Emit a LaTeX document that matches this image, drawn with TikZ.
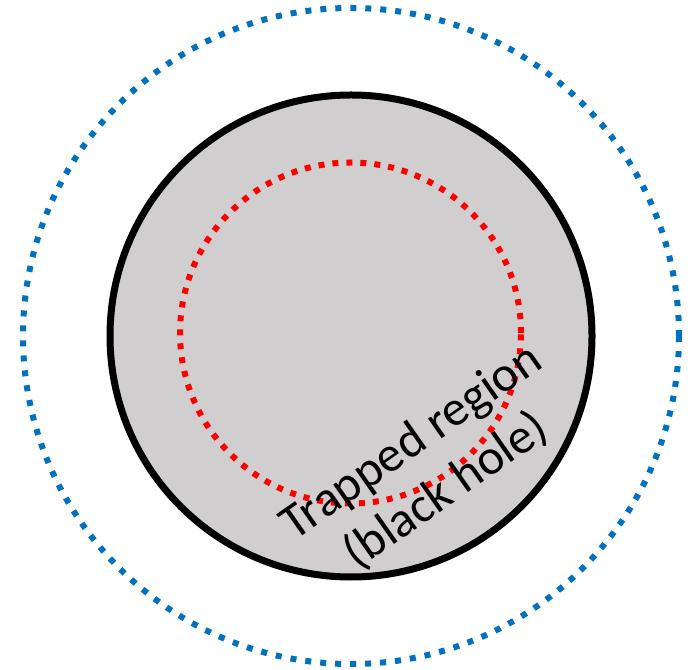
\documentclass[tikz,border=0pt]{standalone}
\usepackage{fontspec}
\setmainfont{Carlito}
\usetikzlibrary{positioning}
\definecolor{holegray}{RGB}{208,206,207}
\definecolor{horizonblue}{RGB}{0,112,192}

\begin{document}
\begin{tikzpicture}[x=1pt,y=1pt,
      outer/.style={draw=horizonblue,line width=6pt,dash pattern=on 6pt off 9pt},
      hole/.style={draw=black,line width=7pt,fill=holegray},
      inner/.style={draw=red,line width=6pt,dash pattern=on 6pt off 8pt},
      lbl/.style={font=\fontsize{50}{60}\selectfont,align=center,rotate=35}
    ]
      \useasboundingbox (0,0) rectangle (695,669);
      % circles
      \draw[hole] (351,333) circle (241);
      \draw[inner] (350.5,336) circle (170.5);
      \draw[outer] (351,333) circle (328);
      % label
      \node[lbl] (trapped) at (429,202) {Trapped region\\(black hole)};
    \end{tikzpicture}
\end{document}
